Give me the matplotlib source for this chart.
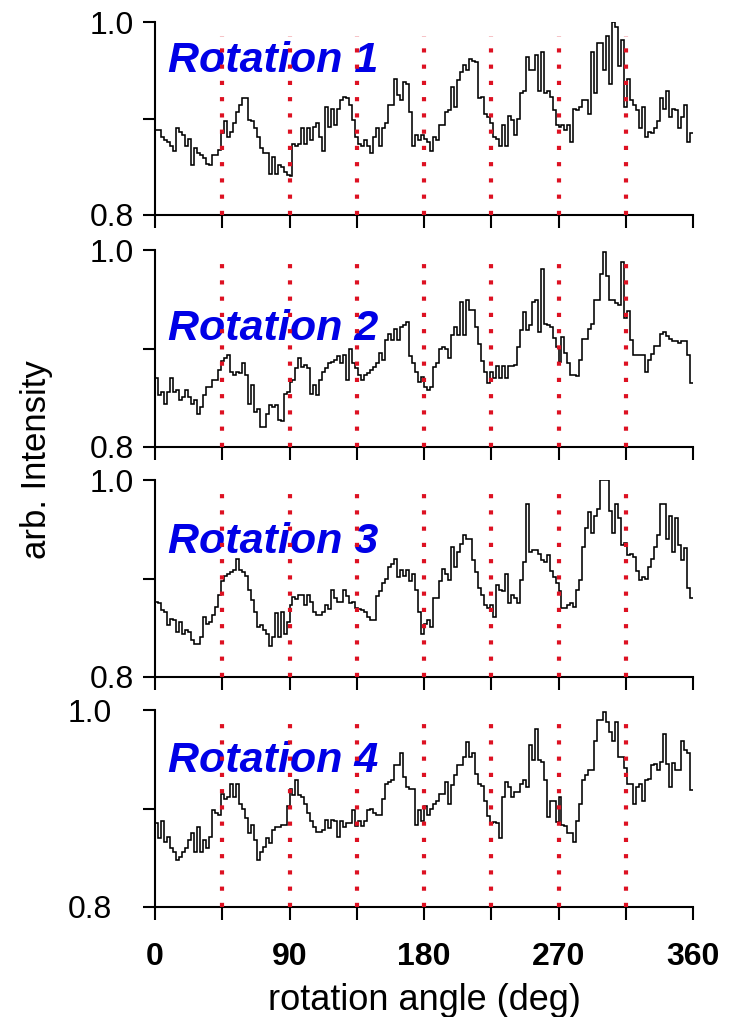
import numpy as np
import matplotlib.pyplot as plt

# step edges in degrees, one value per 2 deg bin
angle_edges = np.arange(0, 361, 2)

rot1 = [0.888, 0.888, 0.881, 0.878, 0.876, 0.871, 0.866, 0.890, 0.886, 0.883,
        0.872, 0.879, 0.852, 0.869, 0.864, 0.862, 0.859, 0.853, 0.852, 0.862,
        0.862, 0.867, 0.885, 0.897, 0.881, 0.886, 0.895, 0.907, 0.914, 0.921,
        0.921, 0.898, 0.897, 0.890, 0.881, 0.869, 0.864, 0.864, 0.843, 0.860,
        0.843, 0.852, 0.850, 0.845, 0.841, 0.840, 0.874, 0.871, 0.874, 0.890,
        0.874, 0.890, 0.878, 0.891, 0.895, 0.881, 0.866, 0.912, 0.891, 0.910,
        0.893, 0.910, 0.919, 0.922, 0.921, 0.914, 0.898, 0.881, 0.874, 0.871,
        0.878, 0.871, 0.864, 0.881, 0.890, 0.871, 0.890, 0.895, 0.914, 0.914,
        0.941, 0.924, 0.919, 0.938, 0.936, 0.907, 0.872, 0.883, 0.878, 0.883,
        0.879, 0.876, 0.866, 0.881, 0.878, 0.893, 0.893, 0.907, 0.909, 0.933,
        0.912, 0.940, 0.948, 0.955, 0.950, 0.962, 0.960, 0.959, 0.921, 0.922,
        0.905, 0.902, 0.895, 0.881, 0.879, 0.872, 0.893, 0.872, 0.903, 0.898,
        0.883, 0.900, 0.926, 0.928, 0.964, 0.950, 0.950, 0.966, 0.928, 0.969,
        0.926, 0.928, 0.922, 0.909, 0.893, 0.891, 0.893, 0.888, 0.893, 0.876,
        0.910, 0.909, 0.912, 0.919, 0.919, 0.905, 0.969, 0.926, 0.978, 0.978,
        0.950, 0.985, 0.936, 1.000, 0.995, 0.954, 0.981, 0.912, 0.941, 0.919,
        0.914, 0.909, 0.890, 0.912, 0.881, 0.886, 0.885, 0.890, 0.897, 0.921,
        0.910, 0.928, 0.902, 0.910, 0.909, 0.890, 0.902, 0.914, 0.876, 0.885]

rot2 = [0.870, 0.853, 0.856, 0.844, 0.856, 0.870, 0.856, 0.858, 0.848, 0.851,
        0.858, 0.851, 0.844, 0.848, 0.834, 0.841, 0.853, 0.861, 0.861, 0.868,
        0.868, 0.878, 0.887, 0.890, 0.893, 0.876, 0.873, 0.876, 0.875, 0.885,
        0.873, 0.844, 0.863, 0.836, 0.839, 0.820, 0.820, 0.834, 0.843, 0.841,
        0.843, 0.827, 0.826, 0.854, 0.856, 0.866, 0.868, 0.880, 0.890, 0.881,
        0.883, 0.880, 0.854, 0.863, 0.853, 0.868, 0.876, 0.880, 0.885, 0.886,
        0.888, 0.892, 0.885, 0.893, 0.868, 0.900, 0.885, 0.880, 0.873, 0.868,
        0.873, 0.875, 0.878, 0.881, 0.885, 0.895, 0.888, 0.909, 0.915, 0.909,
        0.920, 0.909, 0.922, 0.924, 0.927, 0.892, 0.885, 0.876, 0.866, 0.871,
        0.861, 0.858, 0.861, 0.881, 0.885, 0.900, 0.902, 0.900, 0.890, 0.914,
        0.922, 0.914, 0.947, 0.914, 0.949, 0.939, 0.939, 0.922, 0.905, 0.887,
        0.876, 0.865, 0.876, 0.870, 0.882, 0.870, 0.882, 0.870, 0.882, 0.882,
        0.883, 0.902, 0.919, 0.937, 0.919, 0.924, 0.947, 0.949, 0.917, 0.981,
        0.925, 0.924, 0.922, 0.911, 0.902, 0.886, 0.912, 0.895, 0.885, 0.873,
        0.873, 0.872, 0.888, 0.910, 0.910, 0.920, 0.925, 0.949, 0.949, 0.976,
        0.998, 0.974, 0.949, 0.949, 0.946, 0.944, 0.988, 0.931, 0.938, 0.909,
        0.893, 0.893, 0.893, 0.893, 0.876, 0.888, 0.894, 0.903, 0.903, 0.915,
        0.917, 0.913, 0.910, 0.908, 0.908, 0.906, 0.908, 0.908, 0.893, 0.865]

rot3 = [0.876, 0.875, 0.868, 0.866, 0.853, 0.859, 0.858, 0.846, 0.856, 0.844,
        0.848, 0.846, 0.838, 0.834, 0.834, 0.841, 0.861, 0.854, 0.856, 0.863,
        0.871, 0.883, 0.897, 0.903, 0.905, 0.907, 0.909, 0.920, 0.909, 0.907,
        0.903, 0.888, 0.878, 0.866, 0.851, 0.853, 0.848, 0.844, 0.831, 0.841,
        0.865, 0.841, 0.866, 0.844, 0.856, 0.873, 0.881, 0.879, 0.883, 0.883,
        0.873, 0.883, 0.876, 0.866, 0.863, 0.863, 0.866, 0.873, 0.869, 0.888,
        0.880, 0.876, 0.876, 0.888, 0.882, 0.875, 0.876, 0.870, 0.869, 0.868,
        0.866, 0.861, 0.858, 0.858, 0.882, 0.887, 0.895, 0.900, 0.912, 0.915,
        0.920, 0.902, 0.909, 0.903, 0.909, 0.897, 0.905, 0.888, 0.866, 0.844,
        0.854, 0.858, 0.851, 0.880, 0.880, 0.897, 0.910, 0.905, 0.898, 0.932,
        0.912, 0.927, 0.935, 0.944, 0.940, 0.940, 0.919, 0.907, 0.890, 0.883,
        0.873, 0.870, 0.873, 0.861, 0.893, 0.888, 0.887, 0.905, 0.875, 0.883,
        0.880, 0.875, 0.898, 0.917, 0.976, 0.927, 0.929, 0.929, 0.925, 0.919,
        0.917, 0.924, 0.908, 0.902, 0.895, 0.887, 0.870, 0.870, 0.873, 0.875,
        0.871, 0.888, 0.898, 0.932, 0.951, 0.968, 0.946, 0.963, 0.971, 1.000,
        1.000, 1.000, 0.969, 0.946, 0.976, 0.961, 0.934, 0.936, 0.924, 0.925,
        0.922, 0.908, 0.898, 0.902, 0.900, 0.912, 0.920, 0.932, 0.944, 0.976,
        0.976, 0.940, 0.963, 0.927, 0.961, 0.934, 0.919, 0.931, 0.890, 0.880]

rot4 = [0.885, 0.870, 0.887, 0.866, 0.871, 0.860, 0.856, 0.848, 0.851, 0.856,
        0.860, 0.868, 0.875, 0.856, 0.881, 0.856, 0.868, 0.860, 0.871, 0.898,
        0.895, 0.893, 0.915, 0.910, 0.912, 0.925, 0.912, 0.925, 0.905, 0.900,
        0.890, 0.875, 0.883, 0.868, 0.848, 0.856, 0.861, 0.870, 0.865, 0.878,
        0.881, 0.881, 0.883, 0.883, 0.903, 0.920, 0.914, 0.929, 0.914, 0.912,
        0.905, 0.895, 0.887, 0.881, 0.876, 0.876, 0.878, 0.888, 0.880, 0.888,
        0.887, 0.871, 0.887, 0.881, 0.885, 0.885, 0.898, 0.882, 0.887, 0.882,
        0.887, 0.898, 0.900, 0.895, 0.893, 0.893, 0.910, 0.925, 0.927, 0.929,
        0.944, 0.944, 0.956, 0.932, 0.922, 0.920, 0.920, 0.883, 0.898, 0.887,
        0.903, 0.893, 0.900, 0.905, 0.908, 0.915, 0.915, 0.927, 0.905, 0.924,
        0.934, 0.944, 0.944, 0.952, 0.968, 0.952, 0.956, 0.935, 0.925, 0.923,
        0.908, 0.892, 0.885, 0.886, 0.885, 0.870, 0.912, 0.927, 0.922, 0.912,
        0.917, 0.917, 0.925, 0.929, 0.922, 0.964, 0.949, 0.981, 0.949, 0.947,
        0.929, 0.891, 0.908, 0.908, 0.886, 0.912, 0.883, 0.882, 0.875, 0.875,
        0.866, 0.887, 0.905, 0.929, 0.934, 0.939, 0.939, 0.969, 0.990, 0.990,
        0.998, 0.988, 0.978, 0.969, 0.988, 0.952, 0.952, 0.941, 0.925, 0.925,
        0.905, 0.922, 0.925, 0.908, 0.929, 0.930, 0.944, 0.945, 0.939, 0.947,
        0.976, 0.945, 0.922, 0.946, 0.939, 0.939, 0.969, 0.959, 0.956, 0.919]

series = [rot1, rot2, rot3, rot4]
names = ['Rotation 1', 'Rotation 2', 'Rotation 3', 'Rotation 4']
ref_angles = [45, 90, 135, 180, 225, 270, 315]
x_ticks = [0, 45, 90, 135, 180, 225, 270, 315, 360]
x_ticklabels = ['0', '', '90', '', '180', '', '270', '', '360']

plt.rcParams['font.family'] = ['Liberation Sans', 'DejaVu Sans']

W, H = 735, 1017
fig = plt.figure(figsize=(W / 100, H / 100), dpi=100)

# panel placement in pixels: (top, bottom)
panels = [(22, 215), (250, 447), (480, 677), (710, 907)]
name_y = [0.741, 0.543, 0.629, 0.685]
left, right = 155, 693

for i, (top, bot) in enumerate(panels):
    ax = fig.add_axes([left / W, 1 - bot / H, (right - left) / W, (bot - top) / H])
    ax.stairs(series[i], angle_edges, baseline=None, color='black', lw=1.15, zorder=2)
    for a in ref_angles:
        ax.axvline(a, ymin=0, ymax=0.93, color='#dd1122', lw=3.0,
                   ls=(0, (1, 2.9)), zorder=4)
    ax.text(0.024, name_y[i], names[i], transform=ax.transAxes, fontsize=31,
            fontweight='bold', fontstyle='italic', color='#0000e6', zorder=3)

    ax.set_xlim(0, 360)
    ax.set_ylim(0.8, 1.0)
    ax.spines['top'].set_visible(False)
    ax.spines['right'].set_visible(False)
    ax.spines['left'].set_linewidth(1.5)
    ax.spines['bottom'].set_linewidth(1.5)

    ax.set_xticks(x_ticks)
    ax.set_yticks([0.8, 1.0])
    ax.set_yticklabels(['0.8', '1.0'])
    ax.set_yticks([0.9], minor=True)
    ax.tick_params(which='both', direction='out', length=9, width=1.5)
    ypad = 22 if i == 3 else 6
    ax.tick_params(axis='y', labelsize=23, pad=ypad)

    if i == 3:
        ax.set_xticklabels(x_ticklabels)
        ax.tick_params(axis='x', labelsize=23, pad=16)
        for lbl in ax.get_xticklabels():
            lbl.set_fontweight('bold')
    else:
        ax.tick_params(axis='x', labelbottom=False)

fig.text(37 / W, 1 - 460 / H, 'arb. Intensity', rotation=90, ha='center',
         va='center', fontsize=25)
fig.text((left + right) / 2 / W, 1 - 1010 / H, 'rotation angle (deg)',
         ha='center', va='baseline', fontsize=26)

fig.savefig('out.png', dpi=100)
